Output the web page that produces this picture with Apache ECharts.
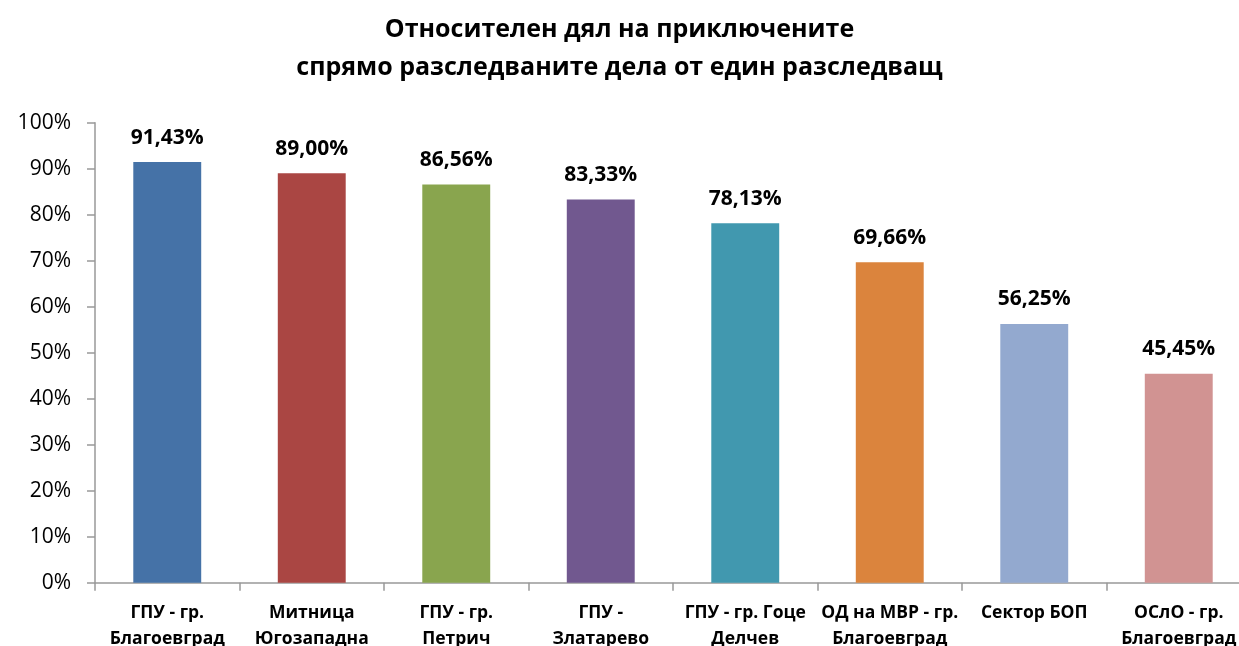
<!DOCTYPE html>
<html>
<head>
<meta charset="utf-8">
<script src="https://cdn.jsdelivr.net/npm/echarts@6/dist/echarts.min.js"></script>
<style>
  html, body { margin: 0; padding: 0; background: #fff; }
  #chart { width: 1239px; height: 646px; }
</style>
</head>
<body>
<div id="chart"></div>
<script>
// категории (етикети по оста x)
const categories = [
  'ГПУ - гр.\nБлагоевград',
  'Митница\nЮгозападна',
  'ГПУ - гр.\nПетрич',
  'ГПУ -\nЗлатарево',
  'ГПУ - гр. Гоце\nДелчев',
  'ОД на МВР - гр.\nБлагоевград',
  'Сектор БОП',
  'ОСлО - гр.\nБлагоевград'
]
// стойности в проценти
const values = [91.43, 89.00, 86.56, 83.33, 78.13, 69.66, 56.25, 45.45]
const barColors = ['#4572A7', '#AA4643', '#89A54E', '#71588F', '#4198AF', '#DB843D', '#93A9CF', '#D19392']

const font = '"Open Sans", "Noto Sans", sans-serif'

let myChart = echarts.init(document.getElementById('chart'))
let option = {
  animation: false,
  title: {
    text: 'Относителен дял на приключените\nспрямо разследваните дела от един разследващ',
    left: 'center',
    top: 6,
    textStyle: {
      fontFamily: font,
      fontWeight: 'bold',
      fontSize: 25,
      lineHeight: 38,
      color: '#000'
    }
  },
  grid: {
    left: 95,
    width: 1156,
    top: 122.7,
    bottom: 63.3,
    outerBoundsMode: 'none'
  },
  xAxis: {
    type: 'category',
    data: categories,
    axisLine: { lineStyle: { color: '#999', width: 1.5 } },
    axisTick: { show: true, length: 8, lineStyle: { color: '#999', width: 1.5 } },
    axisLabel: {
      interval: 0,
      margin: 17,
      fontFamily: font,
      fontWeight: 'bold',
      fontSize: 17.5,
      lineHeight: 26,
      color: '#000'
    }
  },
  yAxis: {
    type: 'value',
    min: 0,
    max: 100,
    interval: 10,
    splitLine: { show: false },
    axisLine: { show: true, lineStyle: { color: '#999', width: 1.5 } },
    axisTick: { show: true, length: 8, lineStyle: { color: '#999', width: 1.5 } },
    axisLabel: {
      formatter: '{value}%',
      margin: 24,
      fontFamily: font,
      fontSize: 21,
      color: '#000'
    }
  },
  series: [
    {
      type: 'bar',
      barWidth: '47%',
      data: values.map((v, i) => ({ value: v, itemStyle: { color: barColors[i] } })),
      label: {
        show: true,
        position: 'top',
        distance: 14,
        formatter: p => p.value.toFixed(2).replace('.', ',') + '%',
        fontFamily: font,
        fontWeight: 'bold',
        fontSize: 21,
        color: '#000'
      }
    }
  ]
}
myChart.setOption(option)
</script>
</body>
</html>
